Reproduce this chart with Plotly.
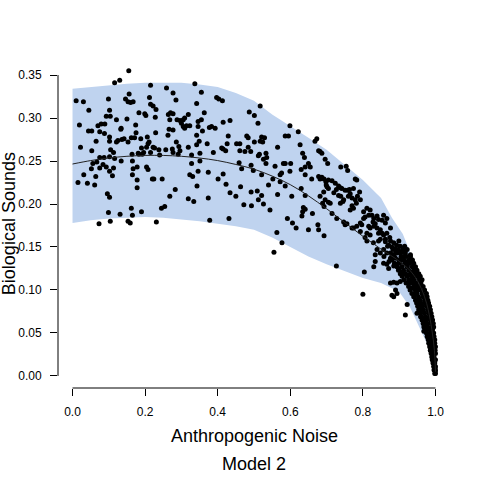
import plotly.graph_objects as go

# Fitted curve (Model 2)
curve_x = [0.00, 0.05, 0.10, 0.15, 0.20, 0.25, 0.30, 0.35, 0.40, 0.45, 0.50, 0.55, 0.60,
           0.65, 0.70, 0.75, 0.80, 0.85, 0.90, 0.93, 0.95, 0.97, 0.98, 0.99, 0.997, 1.00]
curve_y = [0.2465, 0.2505, 0.2535, 0.2555, 0.2565, 0.2565, 0.2555, 0.2535, 0.2505, 0.246,
           0.2405, 0.2325, 0.2225, 0.2095, 0.1945, 0.1785, 0.1625, 0.1475, 0.1335, 0.1225,
           0.111, 0.092, 0.077, 0.054, 0.030, 0.005]

# Prediction band
upper_x = [0.00, 0.05, 0.10, 0.15, 0.20, 0.25, 0.30, 0.35, 0.40, 0.45, 0.50, 0.55, 0.60,
           0.65, 0.70, 0.75, 0.80, 0.85, 0.88, 0.91, 0.93, 0.95, 0.97, 0.985, 0.995, 1.00]
upper_y = [0.334, 0.336, 0.338, 0.340, 0.341, 0.341, 0.341, 0.339, 0.336, 0.329, 0.320,
           0.304, 0.290, 0.277, 0.263, 0.245, 0.228, 0.207, 0.184, 0.165, 0.145, 0.123,
           0.098, 0.074, 0.048, 0.003]
lower_x = [0.00, 0.05, 0.10, 0.15, 0.20, 0.25, 0.30, 0.35, 0.40, 0.45, 0.50, 0.55, 0.60,
           0.65, 0.70, 0.75, 0.80, 0.85, 0.90, 0.93, 0.95, 0.97, 0.985, 1.00]
lower_y = [0.178, 0.181, 0.183, 0.184, 0.185, 0.184, 0.182, 0.180, 0.177, 0.174, 0.170,
           0.161, 0.150, 0.139, 0.130, 0.122, 0.114, 0.108, 0.098, 0.080, 0.062, 0.044,
           0.030, 0.003]

# Observations (Anthropogenic Noise, Biological Sounds)
points = [
    (0.155, 0.355), (0.116, 0.341), (0.130, 0.344), (0.215, 0.338), (0.259, 0.335), (0.337, 0.340),
    (0.156, 0.328), (0.277, 0.329), (0.010, 0.320), (0.030, 0.319), (0.099, 0.322), (0.146, 0.322),
    (0.153, 0.319), (0.160, 0.318), (0.167, 0.319), (0.212, 0.324), (0.285, 0.321), (0.215, 0.316),
    (0.222, 0.314), (0.342, 0.317), (0.045, 0.309), (0.102, 0.309), (0.230, 0.310), (0.183, 0.306),
    (0.199, 0.305), (0.202, 0.303), (0.270, 0.306), (0.264, 0.304), (0.277, 0.305), (0.319, 0.304),
    (0.093, 0.302), (0.104, 0.302), (0.121, 0.298), (0.150, 0.299), (0.228, 0.301), (0.268, 0.298),
    (0.288, 0.298), (0.296, 0.297), (0.305, 0.298), (0.309, 0.300), (0.346, 0.296), (0.019, 0.292),
    (0.070, 0.291), (0.079, 0.293), (0.089, 0.293), (0.134, 0.288), (0.174, 0.292), (0.300, 0.294),
    (0.305, 0.290), (0.314, 0.291), (0.323, 0.291), (0.309, 0.288), (0.266, 0.287), (0.277, 0.286),
    (0.346, 0.290), (0.044, 0.285), (0.053, 0.285), (0.075, 0.284), (0.088, 0.282), (0.175, 0.283),
    (0.133, 0.287), (0.102, 0.278), (0.142, 0.276), (0.162, 0.277), (0.171, 0.277), (0.188, 0.276),
    (0.206, 0.278), (0.229, 0.283), (0.263, 0.280), (0.342, 0.280), (0.065, 0.273), (0.102, 0.273),
    (0.121, 0.272), (0.125, 0.274), (0.136, 0.275), (0.153, 0.272), (0.211, 0.272), (0.208, 0.270),
    (0.286, 0.272), (0.349, 0.273), (0.022, 0.266), (0.105, 0.263), (0.113, 0.260), (0.190, 0.265),
    (0.204, 0.266), (0.222, 0.266), (0.226, 0.265), (0.215, 0.260), (0.238, 0.263), (0.257, 0.263),
    (0.275, 0.264), (0.293, 0.267), (0.319, 0.266), (0.342, 0.269), (0.053, 0.262), (0.196, 0.260),
    (0.181, 0.259), (0.277, 0.260), (0.296, 0.262), (0.291, 0.258), (0.164, 0.258), (0.183, 0.258),
    (0.192, 0.258), (0.240, 0.257), (0.328, 0.257), (0.351, 0.259), (0.075, 0.254), (0.087, 0.254),
    (0.102, 0.255), (0.116, 0.253), (0.134, 0.250), (0.165, 0.250), (0.067, 0.249), (0.056, 0.247),
    (0.052, 0.241), (0.075, 0.242), (0.084, 0.246), (0.093, 0.243), (0.113, 0.242), (0.102, 0.238),
    (0.110, 0.233), (0.167, 0.241), (0.178, 0.243), (0.204, 0.243), (0.208, 0.240), (0.328, 0.247),
    (0.346, 0.238), (0.031, 0.234), (0.064, 0.232), (0.165, 0.234), (0.220, 0.229), (0.224, 0.229),
    (0.247, 0.229), (0.323, 0.234), (0.331, 0.232), (0.178, 0.228), (0.015, 0.225), (0.041, 0.224),
    (0.061, 0.222), (0.178, 0.219), (0.343, 0.221), (0.096, 0.212), (0.102, 0.208), (0.283, 0.217),
    (0.268, 0.209), (0.319, 0.206), (0.334, 0.203), (0.162, 0.195), (0.245, 0.195), (0.254, 0.197),
    (0.099, 0.190), (0.131, 0.188), (0.165, 0.187), (0.190, 0.191), (0.073, 0.177), (0.104, 0.180),
    (0.153, 0.180), (0.159, 0.178), (0.231, 0.179),
    (0.355, 0.330), (0.397, 0.324), (0.403, 0.322), (0.413, 0.320), (0.517, 0.314), (0.363, 0.306),
    (0.487, 0.307), (0.501, 0.303), (0.355, 0.298), (0.415, 0.295), (0.434, 0.297), (0.511, 0.294),
    (0.599, 0.291), (0.622, 0.284), (0.377, 0.289), (0.383, 0.290), (0.393, 0.288), (0.358, 0.285),
    (0.429, 0.279), (0.480, 0.279), (0.484, 0.277), (0.521, 0.278), (0.529, 0.277), (0.586, 0.279),
    (0.595, 0.279), (0.673, 0.276), (0.668, 0.273), (0.501, 0.272), (0.461, 0.270), (0.371, 0.270),
    (0.426, 0.270), (0.452, 0.270), (0.517, 0.273), (0.524, 0.272), (0.565, 0.266), (0.627, 0.269),
    (0.411, 0.265), (0.415, 0.264), (0.422, 0.262), (0.388, 0.260), (0.461, 0.262), (0.475, 0.261),
    (0.484, 0.266), (0.491, 0.261), (0.515, 0.258), (0.533, 0.259), (0.535, 0.254), (0.526, 0.252),
    (0.512, 0.256), (0.682, 0.261), (0.678, 0.262), (0.687, 0.259), (0.634, 0.259), (0.639, 0.254),
    (0.351, 0.250), (0.459, 0.248), (0.492, 0.245), (0.466, 0.241), (0.533, 0.247), (0.558, 0.244),
    (0.581, 0.247), (0.586, 0.247), (0.601, 0.247), (0.650, 0.247), (0.655, 0.243), (0.641, 0.243),
    (0.696, 0.252), (0.703, 0.247), (0.374, 0.237), (0.415, 0.235), (0.498, 0.239), (0.521, 0.234),
    (0.576, 0.236), (0.572, 0.234), (0.599, 0.238), (0.630, 0.240), (0.641, 0.234), (0.678, 0.232),
    (0.682, 0.229), (0.687, 0.231), (0.693, 0.229), (0.698, 0.226), (0.699, 0.222), (0.705, 0.228),
    (0.701, 0.220), (0.401, 0.229), (0.423, 0.223), (0.463, 0.220), (0.540, 0.222), (0.552, 0.229),
    (0.572, 0.226), (0.586, 0.221), (0.630, 0.218), (0.659, 0.229), (0.434, 0.213), (0.450, 0.209),
    (0.492, 0.214), (0.509, 0.215), (0.521, 0.210), (0.512, 0.205), (0.526, 0.200), (0.472, 0.199),
    (0.493, 0.198), (0.565, 0.211), (0.604, 0.209), (0.641, 0.210), (0.682, 0.209), (0.692, 0.214),
    (0.705, 0.218), (0.696, 0.205), (0.689, 0.201), (0.693, 0.197), (0.705, 0.202), (0.374, 0.207),
    (0.544, 0.193), (0.636, 0.196), (0.641, 0.194), (0.634, 0.191), (0.661, 0.189), (0.632, 0.186),
    (0.592, 0.183), (0.431, 0.183), (0.378, 0.181), (0.606, 0.178), (0.616, 0.172), (0.650, 0.170),
    (0.676, 0.176), (0.678, 0.170), (0.693, 0.163), (0.563, 0.167), (0.577, 0.155), (0.555, 0.144),
    (0.739, 0.243), (0.754, 0.244), (0.758, 0.239), (0.779, 0.229), (0.783, 0.228), (0.715, 0.227),
    (0.724, 0.224), (0.733, 0.221), (0.738, 0.219), (0.742, 0.218), (0.751, 0.216), (0.758, 0.216),
    (0.763, 0.217), (0.765, 0.212), (0.774, 0.218), (0.791, 0.214), (0.727, 0.217), (0.720, 0.213),
    (0.733, 0.210), (0.739, 0.209), (0.747, 0.205), (0.760, 0.209), (0.770, 0.207), (0.779, 0.205),
    (0.785, 0.209), (0.793, 0.205), (0.782, 0.201), (0.770, 0.198), (0.774, 0.195), (0.765, 0.193),
    (0.738, 0.201), (0.745, 0.203), (0.710, 0.201), (0.811, 0.195), (0.820, 0.193), (0.802, 0.191),
    (0.816, 0.187), (0.806, 0.185), (0.825, 0.187), (0.830, 0.183), (0.839, 0.186), (0.843, 0.182),
    (0.828, 0.179), (0.834, 0.177), (0.853, 0.181), (0.862, 0.178), (0.866, 0.183), (0.857, 0.187),
    (0.802, 0.183), (0.793, 0.178), (0.816, 0.174), (0.820, 0.172), (0.830, 0.174), (0.839, 0.172),
    (0.848, 0.170), (0.843, 0.166), (0.853, 0.166), (0.857, 0.164), (0.866, 0.166), (0.876, 0.172),
    (0.874, 0.161), (0.862, 0.159), (0.848, 0.159), (0.811, 0.166), (0.820, 0.164), (0.806, 0.161),
    (0.793, 0.168), (0.797, 0.176), (0.783, 0.174), (0.774, 0.172), (0.715, 0.189), (0.728, 0.183),
    (0.747, 0.179), (0.756, 0.177), (0.770, 0.172), (0.751, 0.176), (0.727, 0.128),
    (0.811, 0.157), (0.829, 0.155), (0.843, 0.157), (0.862, 0.156), (0.876, 0.157), (0.885, 0.155),
    (0.899, 0.157), (0.871, 0.152), (0.880, 0.150), (0.889, 0.148), (0.903, 0.151), (0.839, 0.147),
    (0.857, 0.147), (0.834, 0.141), (0.848, 0.143), (0.866, 0.143), (0.880, 0.141), (0.894, 0.143),
    (0.908, 0.145), (0.913, 0.139), (0.922, 0.147), (0.931, 0.141), (0.936, 0.135), (0.926, 0.131),
    (0.922, 0.127), (0.917, 0.133), (0.903, 0.135), (0.890, 0.137), (0.876, 0.137), (0.866, 0.130),
    (0.871, 0.125), (0.885, 0.128), (0.894, 0.130), (0.899, 0.125), (0.908, 0.121), (0.917, 0.119),
    (0.926, 0.117), (0.936, 0.121), (0.940, 0.116), (0.931, 0.112), (0.926, 0.108), (0.940, 0.108),
    (0.945, 0.104), (0.949, 0.100), (0.936, 0.102), (0.834, 0.133), (0.830, 0.127), (0.804, 0.121),
    (0.857, 0.131), (0.876, 0.108), (0.885, 0.109), (0.894, 0.108), (0.903, 0.110), (0.890, 0.100),
    (0.894, 0.096), (0.885, 0.092), (0.880, 0.094), (0.800, 0.095), (0.922, 0.083), (0.917, 0.071),
    (0.945, 0.096), (0.954, 0.090), (0.959, 0.084), (0.963, 0.081), (0.954, 0.077), (0.949, 0.073),
    (0.959, 0.069), (0.968, 0.065), (0.972, 0.057), (0.968, 0.052), (0.977, 0.046), (0.982, 0.038),
    (0.986, 0.030), (0.991, 0.022), (0.995, 0.015), (0.999, 0.009), (1.000, 0.003),
    (0.876, 0.143), (0.890, 0.143), (0.904, 0.143), (0.917, 0.143),
    (0.880, 0.135), (0.899, 0.135), (0.913, 0.135), (0.927, 0.135), (0.936, 0.135),
    (0.894, 0.127), (0.908, 0.127), (0.922, 0.127), (0.936, 0.127), (0.945, 0.127),
    (0.903, 0.119), (0.917, 0.119), (0.931, 0.119), (0.945, 0.119), (0.954, 0.119),
    (0.913, 0.112), (0.926, 0.112), (0.940, 0.112), (0.954, 0.112), (0.963, 0.112),
    (0.926, 0.104), (0.940, 0.104), (0.954, 0.104), (0.966, 0.104),
    (0.935, 0.096), (0.949, 0.096), (0.963, 0.096), (0.975, 0.096),
    (0.945, 0.088), (0.957, 0.088), (0.970, 0.088), (0.979, 0.088),
    (0.951, 0.081), (0.963, 0.081), (0.975, 0.081), (0.984, 0.081),
    (0.959, 0.073), (0.970, 0.073), (0.982, 0.073), (0.988, 0.073),
    (0.963, 0.065), (0.975, 0.065), (0.986, 0.065), (0.992, 0.065),
    (0.968, 0.057), (0.979, 0.057), (0.991, 0.057), (0.995, 0.057),
    (0.975, 0.050), (0.986, 0.050), (0.995, 0.050),
    (0.980, 0.042), (0.991, 0.042), (0.998, 0.042),
    (0.984, 0.034), (0.993, 0.034), (1.000, 0.034),
    (0.988, 0.026), (0.995, 0.026), (1.000, 0.026),
    (0.991, 0.019), (0.997, 0.019), (1.000, 0.019),
    (0.995, 0.011), (1.000, 0.011), (0.998, 0.003), (1.000, 0.006),
    (0.883, 0.147), (0.897, 0.147), (0.910, 0.147),
    (0.886, 0.139), (0.905, 0.139), (0.920, 0.139), (0.931, 0.139),
    (0.887, 0.131), (0.901, 0.131), (0.915, 0.131), (0.929, 0.131), (0.940, 0.131),
    (0.898, 0.123), (0.912, 0.123), (0.926, 0.123), (0.940, 0.123), (0.949, 0.123),
    (0.908, 0.116), (0.921, 0.116), (0.935, 0.116), (0.949, 0.116), (0.958, 0.116),
    (0.919, 0.108), (0.933, 0.108), (0.947, 0.108), (0.960, 0.108),
    (0.930, 0.100), (0.944, 0.100), (0.958, 0.100), (0.970, 0.100),
    (0.940, 0.092), (0.953, 0.092), (0.966, 0.092), (0.977, 0.092),
    (0.948, 0.085), (0.960, 0.085), (0.972, 0.085), (0.981, 0.085),
    (0.955, 0.077), (0.966, 0.077), (0.978, 0.077), (0.986, 0.077),
    (0.961, 0.069), (0.972, 0.069), (0.983, 0.069), (0.990, 0.069),
    (0.966, 0.061), (0.977, 0.061), (0.988, 0.061), (0.994, 0.061),
    (0.972, 0.054), (0.982, 0.054), (0.992, 0.054),
    (0.978, 0.046), (0.988, 0.046), (0.996, 0.046),
    (0.982, 0.038), (0.991, 0.038), (0.998, 0.038),
    (0.986, 0.030), (0.994, 0.030), (0.999, 0.030),
    (0.990, 0.022), (0.996, 0.022), (0.993, 0.015), (0.998, 0.015),
    (0.996, 0.007), (0.999, 0.007),
    (0.868, 0.151), (0.893, 0.152), (0.915, 0.151), (0.858, 0.139), (0.872, 0.133),
]
pts_x = [p[0] for p in points]
pts_y = [p[1] for p in points]

x_ticks = [0.0, 0.2, 0.4, 0.6, 0.8, 1.0]
y_ticks = [0.00, 0.05, 0.10, 0.15, 0.20, 0.25, 0.30, 0.35]

FONT = "Liberation Sans, Arial, Helvetica, sans-serif"
BAND = "#BFD3EF"

fig = go.Figure()
fig.add_trace(go.Scatter(x=upper_x[::-1] + lower_x, y=upper_y[::-1] + lower_y, mode="lines",
                         fill="toself", fillcolor=BAND, line=dict(width=0, color=BAND),
                         hoverinfo="skip", showlegend=False))
fig.add_trace(go.Scatter(x=pts_x, y=pts_y, mode="markers",
                         marker=dict(color="black", size=5, line=dict(width=0)),
                         showlegend=False))
fig.add_trace(go.Scatter(x=curve_x, y=curve_y, mode="lines", line=dict(color="#222222", width=1),
                         line_shape="spline", showlegend=False))

# R-style axis lines (only spanning the tick range)
fig.add_shape(type="line", xref="x", yref="paper", x0=0, x1=1, y0=0, y1=0,
              line=dict(color="black", width=1))
fig.add_shape(type="line", xref="paper", yref="y", x0=0, x1=0, y0=0, y1=0.35,
              line=dict(color="black", width=1))

fig.update_xaxes(range=[-0.04, 1.04], showgrid=False, zeroline=False, showline=False,
                 tickvals=x_ticks, ticktext=[f"{v:.1f}" for v in x_ticks],
                 ticks="outside", ticklen=7, tickcolor="black", tickwidth=1,
                 tickfont=dict(family=FONT, size=12, color="black"), ticklabelstandoff=6)
fig.update_yaxes(range=[-0.014, 0.364], showgrid=False, zeroline=False, showline=False,
                 tickvals=y_ticks, ticktext=[f"{v:.2f}" for v in y_ticks],
                 ticks="outside", ticklen=7, tickcolor="black", tickwidth=1,
                 tickfont=dict(family=FONT, size=12, color="black"), ticklabelstandoff=6)

fig.add_annotation(text="Anthropogenic Noise", xref="paper", yref="paper", x=0.5, y=-0.1477,
                   xanchor="center", yanchor="middle", showarrow=False,
                   font=dict(family=FONT, size=18, color="black"))
fig.add_annotation(text="Model 2", xref="paper", yref="paper", x=0.5, y=-0.2338,
                   xanchor="center", yanchor="middle", showarrow=False,
                   font=dict(family=FONT, size=18, color="black"))
fig.add_annotation(text="Biological Sounds", xref="paper", yref="paper", x=-0.126, y=0.506,
                   xanchor="center", yanchor="middle", textangle=-90, showarrow=False,
                   font=dict(family=FONT, size=18, color="black"))

fig.update_layout(width=480, height=480, margin=dict(l=58, r=30, t=63, b=92),
                  plot_bgcolor="white", paper_bgcolor="white", showlegend=False)

fig.write_html("out.html")
